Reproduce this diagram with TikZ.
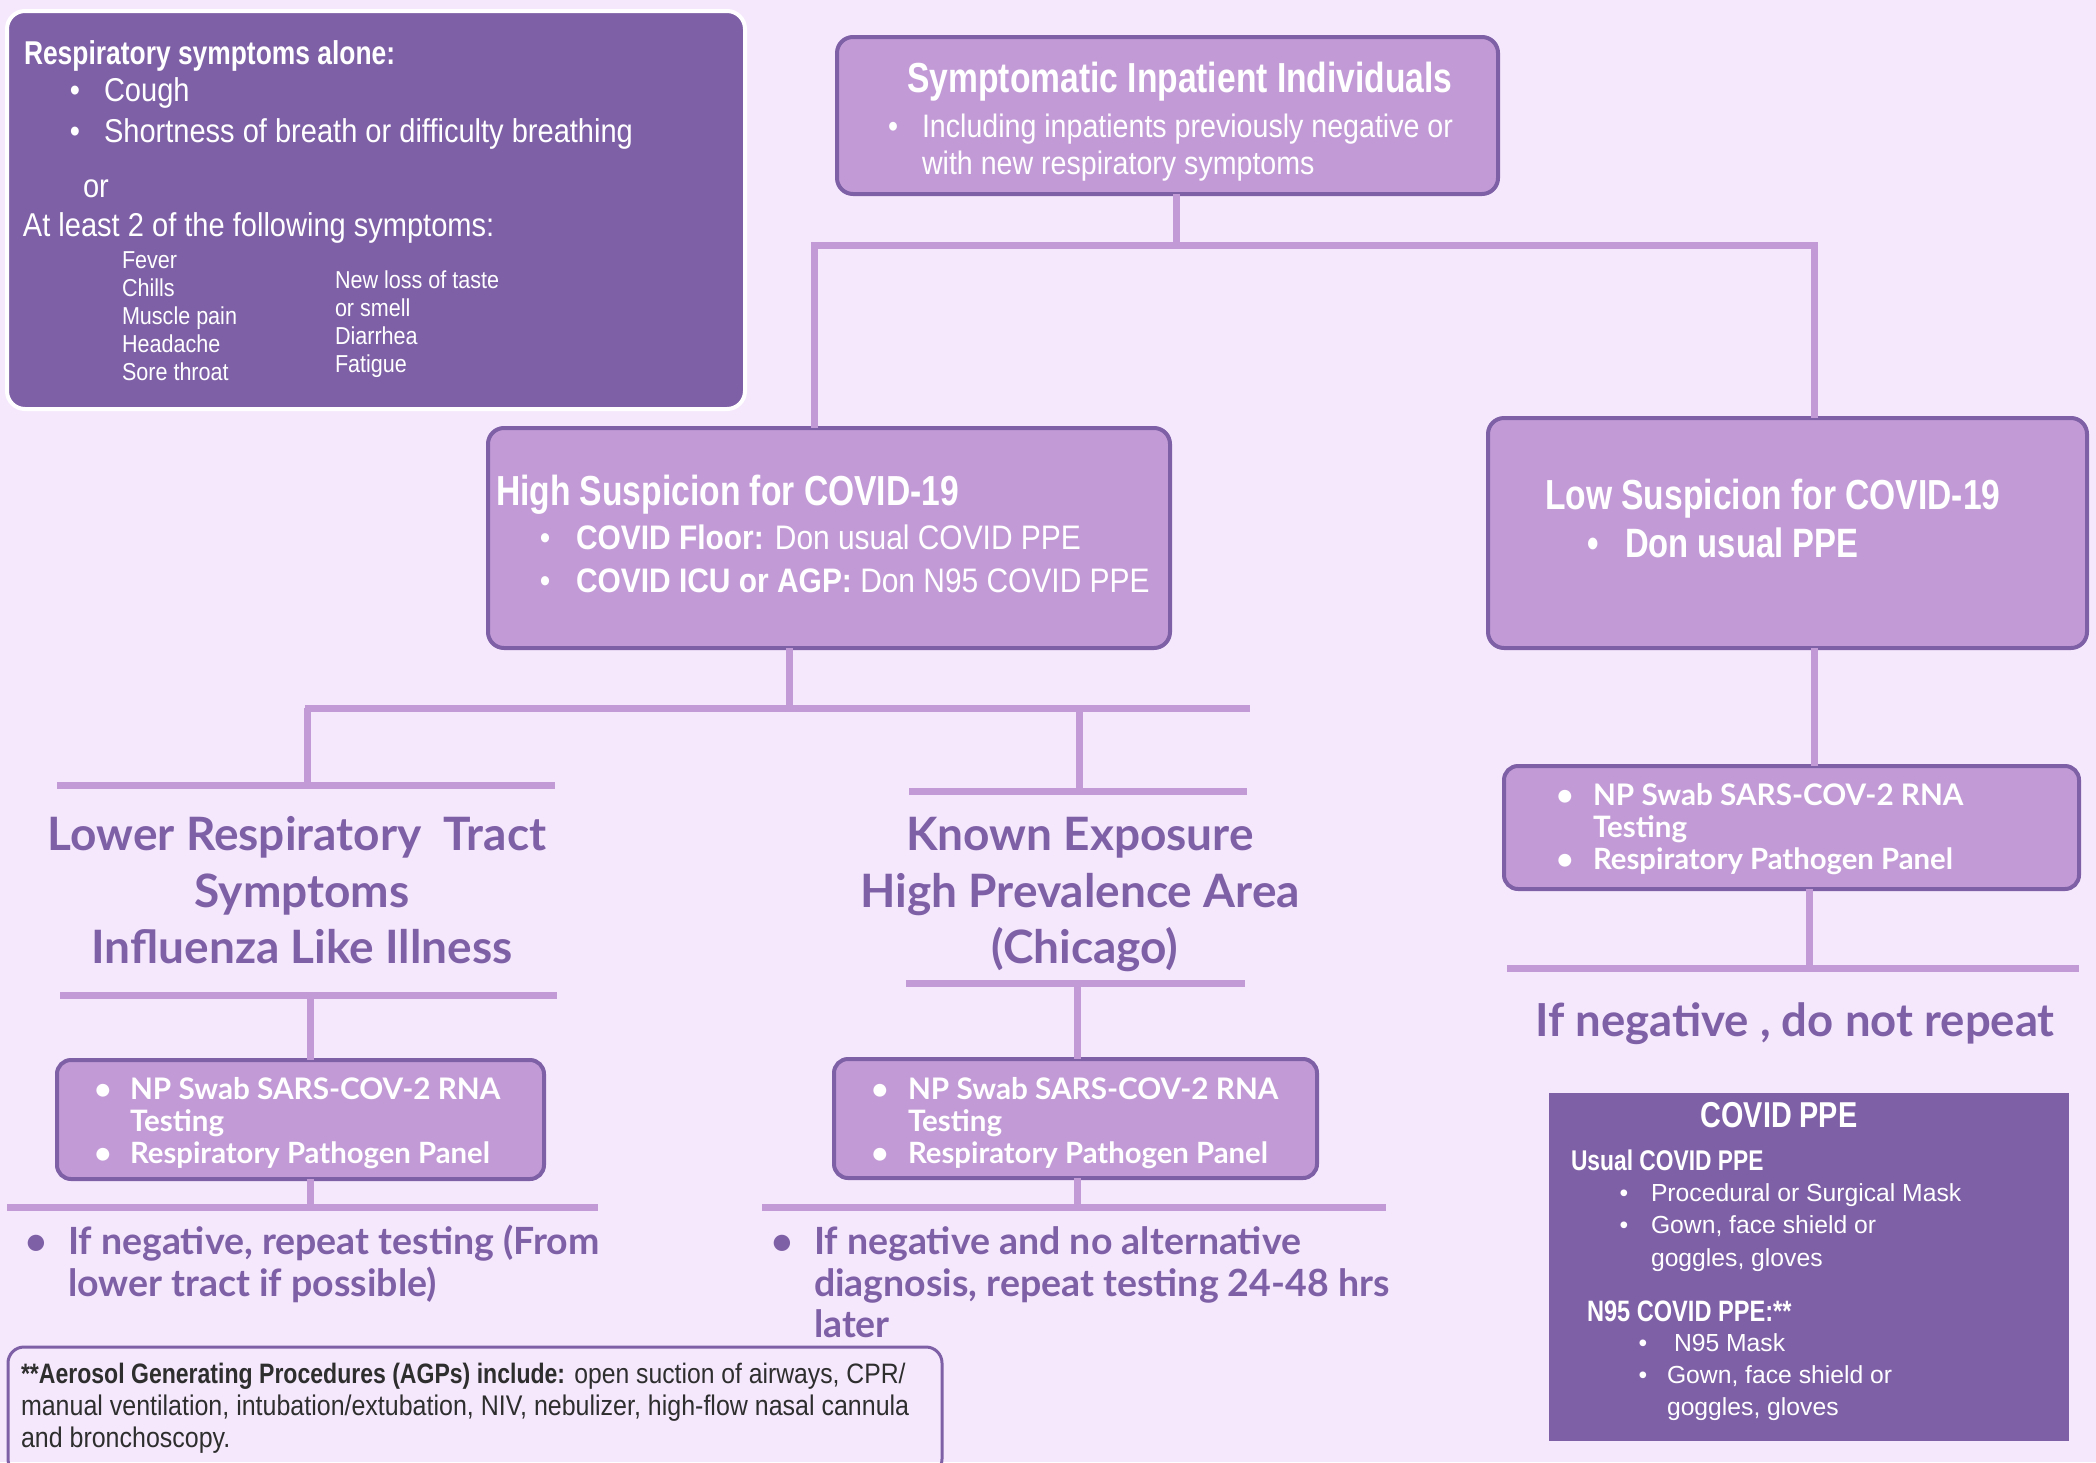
\documentclass[tikz,border=0pt]{standalone}
\usepackage{fontspec}
\setmainfont{Liberation Sans}
\newfontfamily\condR[FakeStretch=0.88]{Liberation Sans}
\newfontfamily\condM[FakeStretch=0.82]{Liberation Sans}
\newfontfamily\condB[FakeStretch=0.8]{Liberation Sans}
\newfontfamily\nun{Lato}
\definecolor{bg}{HTML}{F5E8FD}
\definecolor{lite}{HTML}{C29BD6}
\definecolor{dark}{HTML}{7E60A6}
\definecolor{agptext}{HTML}{2E2E2E}
\begin{document}
\begin{tikzpicture}[x=1pt,y=-1pt,
  every node/.style={inner sep=0pt, outer sep=0pt},
  conn/.style={draw=lite, line width=7pt},
  litebox/.style={draw=dark, fill=lite, line width=4pt, rounded corners=16pt},
  darkbox/.style={fill=dark, draw=white, line width=4pt, rounded corners=18pt},
  ppebox/.style={fill=dark},
  agpbox/.style={draw=dark, line width=3pt, rounded corners=16pt},
  ln/.style={anchor=west, text height=10.8pt, text depth=0pt},
  cn/.style={anchor=center, text height=10.8pt, text depth=0pt},
  wc/.style={text=white, font=\condR\fontsize{#1}{#1}\selectfont, yshift={-0.2*#1}},
  wcb/.style={text=white, font=\condB\bfseries\fontsize{#1}{#1}\selectfont, yshift={-0.2*#1}},
  pn/.style={text=dark, font=\nun\bfseries\fontsize{#1}{#1}\selectfont, yshift={-0.23*#1}},
  wn/.style={text=white, font=\nun\bfseries\fontsize{#1}{#1}\selectfont, yshift={-0.22*#1}},
  wr/.style={text=white, font=\fontsize{#1}{#1}\selectfont, yshift={-0.17*#1}},
  ag/.style={text=agptext, font=\condR\fontsize{#1}{#1}\selectfont, yshift={-0.15*#1}},
]
\fill[bg] (0,0) rectangle (2096,1462);
\useasboundingbox (0,0) rectangle (2096,1462);

% ---------- boxes ----------
\node[darkbox, minimum width=738pt, minimum height=398pt] (crit) at (376,210) {};
\node[litebox, minimum width=661pt, minimum height=157pt] (top) at (1167.5,115.5) {};
\node[litebox, minimum width=682pt, minimum height=220pt] (high) at (829,538) {};
\node[litebox, minimum width=599pt, minimum height=230pt] (low) at (1787.5,533) {};
\node[litebox, rounded corners=14pt, minimum width=487pt, minimum height=119pt] (np1) at (300.5,1119.5) {};
\node[litebox, rounded corners=14pt, minimum width=483pt, minimum height=119pt] (np2) at (1075.5,1118.5) {};
\node[litebox, rounded corners=14pt, minimum width=575pt, minimum height=123pt] (np3) at (1791.5,827.5) {};
\node[ppebox, minimum width=520pt, minimum height=348pt] (ppe) at (1809,1267) {};
\node[agpbox, minimum width=934pt, minimum height=128pt] (agp) at (475,1411) {};

% ---------- connectors ----------
\coordinate (tj) at (1176,245);
\coordinate (lx) at (814,245);
\coordinate (rx) at (1814,245);
\draw[conn] (top.south -| tj) -- (tj);
\draw[conn] (high.north -| lx) -- (lx) -- (rx) -- (low.north -| rx);

\coordinate (hj) at (789,708);
\coordinate (h2l) at (305,708);
\coordinate (h2r) at (1250,708);
\coordinate (v1) at (307,708);
\coordinate (v2) at (1079,708);
\draw[conn] (high.south -| hj) -- (hj);
\draw[conn] (h2l) -- (h2r);
\coordinate (r1a) at (57,785);  \coordinate (r1b) at (555,785);
\coordinate (r2a) at (909,791); \coordinate (r2b) at (1247,791);
\draw[conn] (v1) -- (v1 |- r1a);
\draw[conn] (v2) -- (v2 |- r2a);
\draw[conn] (r1a) -- (r1b);
\draw[conn] (r2a) -- (r2b);

\coordinate (r3a) at (60,995);  \coordinate (r3b) at (557,995);
\coordinate (r4a) at (906,983); \coordinate (r4b) at (1245,983);
\draw[conn] (r3a) -- (r3b);
\draw[conn] (r4a) -- (r4b);
\coordinate (v3) at (310,995);
\coordinate (v4) at (1077,983);
\draw[conn] (v3) -- (np1.north -| v3);
\draw[conn] (v4) -- (np2.north -| v4);

\coordinate (r5a) at (7,1207);   \coordinate (r5b) at (598,1207);
\coordinate (r6a) at (762,1207); \coordinate (r6b) at (1386,1207);
\draw[conn] (np1.south -| v3) -- (v3 |- r5a);
\draw[conn] (np2.south -| v4) -- (v4 |- r6a);
\draw[conn] (r5a) -- (r5b);
\draw[conn] (r6a) -- (r6b);

\coordinate (v5) at (1809,968);
\coordinate (r7a) at (1507,968); \coordinate (r7b) at (2079,968);
\draw[conn] (low.south -| rx) -- (np3.north -| rx);
\draw[conn] (np3.south -| v5) -- (v5);
\draw[conn] (r7a) -- (r7b);

% ---------- criteria box text ----------
\node[ln, wcb=33] (c1) at (24,52) {Respiratory symptoms alone:};
\node[cn, wc=33] at (75,89) {\textbullet};
\node[ln, wc=33] (c2) at (104,89) {Cough};
\node[cn, wc=33] at (75,130) {\textbullet};
\node[ln, wc=33] (c3) at (104,130) {Shortness of breath or difficulty breathing};
\node[ln, wc=33] (c4) at (83,185) {or};
\node[ln, wc=33] (c5) at (23,224) {At least 2 of the following symptoms:};
\node[ln, wc=24.5] at (122,258) {Fever};
\node[ln, wc=24.5] at (122,286) {Chills};
\node[ln, wc=24.5] at (122,314) {Muscle pain};
\node[ln, wc=24.5] at (122,342) {Headache};
\node[ln, wc=24.5] at (122,370) {Sore throat};
\node[ln, wc=24.5] at (335,278) {New loss of taste};
\node[ln, wc=24.5] at (335,306) {or smell};
\node[ln, wc=24.5] at (335,334) {Diarrhea};
\node[ln, wc=24.5] at (335,362) {Fatigue};

% ---------- top box text ----------
\node[cn, wcb=42] at (1180,79) {Symptomatic Inpatient Individuals};
\node[cn, wc=32.5] at (893,126) {\textbullet};
\node[ln, wc=32.5] at (922,126) {Including inpatients previously negative or};
\node[ln, wc=32.5] at (922,163) {with new respiratory symptoms};

% ---------- high box text ----------
\node[ln, wcb=42] at (496,492) {High Suspicion for COVID-19};
\node[cn, wc=34] at (545,537) {\textbullet};
\node[ln, wc=34] at (576,537) {\textbf{COVID Floor:} Don usual COVID PPE};
\node[cn, wc=34] at (545,580) {\textbullet};
\node[ln, wc=34] at (576,580) {\textbf{COVID ICU or AGP:} Don N95 COVID PPE};

% ---------- low box text ----------
\node[ln, wcb=42] at (1545,496) {Low Suspicion for COVID-19};
\node[cn, wcb=41] at (1593,544) {\textbullet};
\node[ln, wcb=41] at (1625,544) {Don usual PPE};

% ---------- branch labels ----------
\node[cn, pn=46] at (297,835) {Lower Respiratory\ \ Tract};
\node[cn, pn=46] at (302,892) {Symptoms};
\node[cn, pn=46] at (302,948) {Influenza Like Illness};
\node[cn, pn=46] at (1080,835) {Known Exposure};
\node[cn, pn=46] at (1080,892) {High Prevalence Area};
\node[cn, pn=46] at (1085,948) {(Chicago)};

% ---------- NP boxes text ----------
\foreach \bx/\tx/\ya/\yb/\yc in {103/130/1088/1120/1152, 880/908/1088/1120/1152, 1565/1593/794/826/858}{
  \node[cn, wn=29.5] at (\bx,\ya) {\textbullet};
  \node[ln, wn=29.7] at (\tx,\ya) {NP Swab SARS-COV-2 RNA};
  \node[ln, wn=29.5] at (\tx,\yb) {Testing};
  \node[cn, wn=29.5] at (\bx,\yc) {\textbullet};
  \node[ln, wn=29.3] at (\tx,\yc) {Respiratory Pathogen Panel};
}

% ---------- outcome texts ----------
\node[cn, pn=37.5] at (36,1240) {\textbullet};
\node[ln, pn=37.5] at (68,1240) {If negative, repeat testing (From};
\node[ln, pn=37.5] at (68,1282) {lower tract if possible)};
\node[cn, pn=37.5] at (782,1240) {\textbullet};
\node[ln, pn=37.5] at (814,1240) {If negative and no alternative};
\node[ln, pn=37.5] at (814,1282) {diagnosis, repeat testing 24-48 hrs};
\node[ln, pn=37.5] at (814,1323) {later};
\node[cn, pn=45.5] at (1795,1021) {If negative , do not repeat};

% ---------- PPE box text ----------
\node[cn, wcb=36] at (1779,1115) {COVID PPE};
\node[ln, wcb=28.5] at (1571,1159) {Usual COVID PPE};
\node[cn, wr=24.7] at (1624,1192) {\textbullet};
\node[ln, wr=24.7] at (1651,1192) {Procedural or Surgical Mask};
\node[cn, wr=24.7] at (1624,1224) {\textbullet};
\node[ln, wr=24.7] at (1651,1224) {Gown, face shield or};
\node[ln, wr=24.7] at (1651,1257) {goggles, gloves};
\node[ln, wcb=29.5] at (1587,1310) {N95 COVID PPE:**};
\node[cn, wr=24.7] at (1643,1342) {\textbullet};
\node[ln, wr=24.7] at (1674,1342) {N95 Mask};
\node[cn, wr=24.7] at (1643,1374) {\textbullet};
\node[ln, wr=24.7] at (1667,1374) {Gown, face shield or};
\node[ln, wr=24.7] at (1667,1406) {goggles, gloves};

% ---------- AGP box text ----------
\node[ln, ag=28.1] at (21,1374) {{\condM\bfseries **Aerosol Generating Procedures (AGPs) include:} open suction of airways, CPR/};
\node[ln, ag=28.4] at (21,1406) {manual ventilation, intubation/extubation, NIV, nebulizer, high-flow nasal cannula};
\node[ln, ag=28.4] at (21,1438) {and bronchoscopy.};
\end{tikzpicture}
\end{document}
